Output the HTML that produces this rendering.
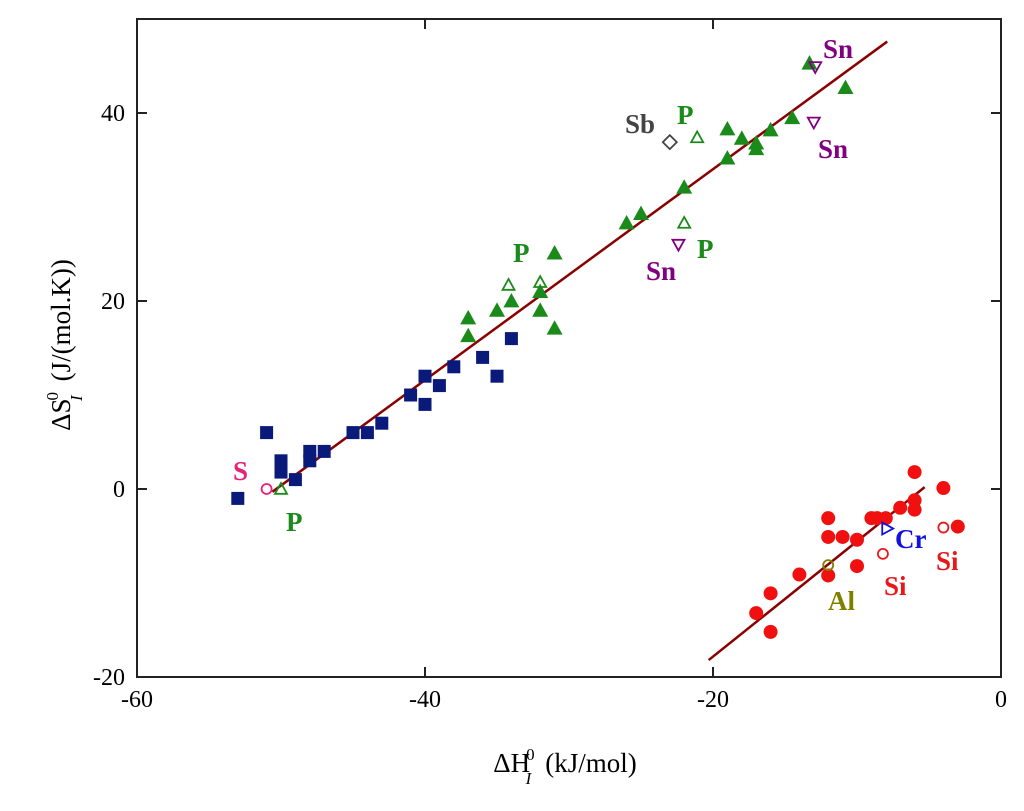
<!DOCTYPE html>
<html><head><meta charset="utf-8"><style>
body{margin:0;background:#fff}
svg{display:block;font-family:"Liberation Serif",serif}
</style></head><body>
<svg id="chart" width="1024" height="811" viewBox="0 0 1024 811" xmlns="http://www.w3.org/2000/svg">
<rect x="137" y="19" width="864" height="658" fill="none" stroke="#222" stroke-width="2"/>
<g id="ticks"></g>
<g id="lines"></g>
<g id="marks"></g>
<g font-weight="bold" font-size="27">
<text x="233" y="480" fill="#e8207a">S</text>
<text x="286" y="531" fill="#1a8a1a">P</text>
<text x="513" y="262" fill="#1a8a1a">P</text>
<text x="697" y="258" fill="#1a8a1a">P</text>
<text x="677" y="124" fill="#1a8a1a">P</text>
<text x="625" y="133" fill="#444">Sb</text>
<text x="646" y="280" fill="#800080">Sn</text>
<text x="823" y="58" fill="#800080">Sn</text>
<text x="818" y="158" fill="#800080">Sn</text>
<text x="895" y="548" fill="#1010e0">Cr</text>
<text x="936" y="570" fill="#e81818">Si</text>
<text x="884" y="595" fill="#e81818">Si</text>
<text x="828" y="610" fill="#808000">Al</text>
</g>
<text x="565" y="772" text-anchor="middle" font-size="27">ΔH<tspan font-size="17" dy="-12" dx="-4">0</tspan><tspan font-size="17" font-style="italic" dy="24" dx="-9">I</tspan><tspan dy="-12" dx="14">(kJ/mol)</tspan></text>
<text transform="translate(70,345) rotate(-90)" text-anchor="middle" font-size="27">ΔS<tspan font-size="17" dy="-12" dx="-2">0</tspan><tspan font-size="17" font-style="italic" dy="24" dx="-9">I</tspan><tspan dy="-12" dx="14">(J/(mol.K))</tspan></text>
</svg>
<script>
const xTicks=[-60,-40,-20,0];
const yTicks=[-20,0,20,40];
const sqX=[-53,-51,-50,-50,-49,-48,-48,-47,-45,-44,-43,-41,-40,-40,-39,-38,-36,-35,-34];
const sqY=[-1,6,3,1.8,1,4,3,4,6,6,7,10,12,9,11,13,14,12,16];
const triX=[-37,-37,-35,-34,-32,-32,-31,-31,-26,-25,-22,-19,-19,-18,-17,-17,-16,-14.5,-13.3,-10.8];
const triY=[18.2,16.3,19,20,19,21,25.1,17.1,28.3,29.3,32.1,38.3,35.2,37.3,36.8,36.2,38.2,39.5,45.3,42.7];
const openTriX=[-34.2,-32,-22,-21.1,-50];
const openTriY=[21.7,22,28.3,37.4,0];
const snX=[-12.9,-13,-22.4];
const snY=[44.9,39,26];
const circX=[-6,-4,-6,-6,-7,-9,-8,-8.6,-12,-12,-11,-10,-3,-10,-12,-14,-16,-17,-16];
const circY=[1.8,0.1,-1.2,-2.2,-2,-3.1,-3.1,-3.1,-3.1,-5.1,-5.1,-5.4,-4,-8.2,-9.2,-9.1,-11.1,-13.2,-15.2];
const siX=[-8.2,-4];
const siY=[-6.9,-4.1];
const line1X=[-50.6,-7.9];
const line1Y=[-0.3,47.6];
const line2X=[-20.3,-5.3];
const line2Y=[-18.2,0.2];
const NS='http://www.w3.org/2000/svg';
const sx=v=>137+(v+60)*14.4;
const sy=v=>489-v*9.4;
function mk(tag,attrs,parent){const e=document.createElementNS(NS,tag);for(const k in attrs)e.setAttribute(k,attrs[k]);document.getElementById(parent).appendChild(e);return e;}
xTicks.forEach(v=>{
  const t=mk('line',{x1:sx(v),x2:sx(v),y1:677,y2:667,stroke:'#222','stroke-width':2},'ticks');
  
  
  const t2=mk('line',{x1:sx(v),x2:sx(v),y1:19,y2:29,stroke:'#222','stroke-width':2},'ticks');
  
  
  const l=mk('text',{x:sx(v),y:707,'text-anchor':'middle','font-size':24},'ticks');
  l.textContent=v;
  
  
});
yTicks.forEach(v=>{
  const t=mk('line',{x1:137,x2:147,y1:sy(v),y2:sy(v),stroke:'#222','stroke-width':2},'ticks');
  
  
  const t2=mk('line',{x1:991,x2:1001,y1:sy(v),y2:sy(v),stroke:'#222','stroke-width':2},'ticks');
  
  
  const l=mk('text',{x:125,y:sy(v)+8,'text-anchor':'end','font-size':24},'ticks');
  l.textContent=v;
  
  
});
[[line1X,line1Y],[line2X,line2Y]].forEach(([X,Y])=>{
  const l=mk('line',{x1:sx(X[0]),y1:sy(Y[0]),x2:sx(X[1]),y2:sy(Y[1]),stroke:'#8b0000','stroke-width':2.5},'lines');
  
  
});
sqX.forEach((v,i)=>{
  const e=mk('rect',{x:sx(v)-6.5,y:sy(sqY[i])-6.5,width:13,height:13,fill:'#0a1a7a'},'marks');
  
  
});
function tri(x,y,r,up){return up?`${x},${y-r} ${x-r},${y+r*0.8} ${x+r},${y+r*0.8}`:`${x},${y+r} ${x-r},${y-r*0.8} ${x+r},${y-r*0.8}`;}
triX.forEach((v,i)=>{
  const e=mk('polygon',{points:tri(sx(v),sy(triY[i]),8,true),fill:'#1a8a1a'},'marks');
  
  
});
openTriX.forEach((v,i)=>{
  const e=mk('polygon',{points:tri(sx(v),sy(openTriY[i]),6,true),fill:'none',stroke:'#1a8a1a','stroke-width':1.8},'marks');
  
  
});
snX.forEach((v,i)=>{
  const e=mk('polygon',{points:tri(sx(v),sy(snY[i]),6,false),fill:'none',stroke:'#800080','stroke-width':1.8},'marks');
  
  
});
circX.forEach((v,i)=>{
  const e=mk('circle',{cx:sx(v),cy:sy(circY[i]),r:7,fill:'#f01010'},'marks');
  
  
});
siX.forEach((v,i)=>{
  const e=mk('circle',{cx:sx(v),cy:sy(siY[i]),r:5,fill:'none',stroke:'#e81818','stroke-width':1.8},'marks');
  
  
});
let e=mk('circle',{cx:sx(-12),cy:sy(-8.1),r:5,fill:'none',stroke:'#808000','stroke-width':1.8},'marks');


e=mk('circle',{cx:sx(-51),cy:sy(0),r:5,fill:'none',stroke:'#e8207a','stroke-width':1.8},'marks');


e=mk('polygon',{points:`${sx(-23)},${sy(36.9)-7} ${sx(-23)+7},${sy(36.9)} ${sx(-23)},${sy(36.9)+7} ${sx(-23)-7},${sy(36.9)}`,fill:'none',stroke:'#444','stroke-width':1.8},'marks');


const cx=sx(-7.9),cy=sy(-4.2);
e=mk('polygon',{points:`${cx+6},${cy} ${cx-5},${cy-6} ${cx-5},${cy+6}`,fill:'none',stroke:'#1010e0','stroke-width':1.8},'marks');


</script>
</body></html>
